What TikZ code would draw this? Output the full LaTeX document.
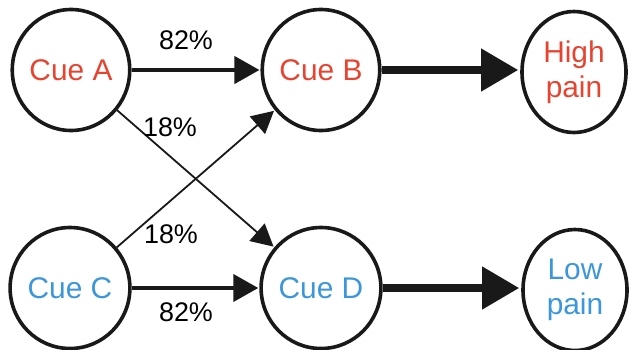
\documentclass[tikz,border=0pt]{standalone}
\usepackage{fontspec}
\setmainfont{Liberation Sans}
\usetikzlibrary{arrows.meta,shapes.geometric}
\definecolor{cuered}{HTML}{E8432F}
\definecolor{cueblue}{HTML}{3B96DC}
\tikzset{
  cue/.style={ellipse, draw=black!90, line width=3.6bp, minimum width=111bp, minimum height=121bp, inner sep=0pt,
    font=\fontsize{30}{35}\selectfont, align=center},
  outcome/.style={cue, minimum width=104bp},
  redtxt/.style={text=cuered},
  bluetxt/.style={text=cueblue},
  mainlink/.style={line width=4bp, draw=black!90, -{Triangle[length=25bp,width=27bp]}, shorten >=1bp},
  crosslink/.style={line width=1.8bp, draw=black!90, -{Triangle[length=22bp,width=23bp]}, shorten >=1bp},
  painlink/.style={line width=7.5bp, draw=black!90, -{Triangle[length=37bp,width=41bp]}, shorten >=2bp},
  pct/.style={font=\fontsize{27}{30}\selectfont, inner sep=0pt}
}
\begin{document}
\begin{tikzpicture}[x=1bp, y=-1bp]
  \useasboundingbox (0,0) rectangle (629,349);
  % cue circles
  \node[cue, redtxt]  (A) at (71,70)  {Cue A};
  \node[cue, redtxt]  (B) at (321,70) {Cue B};
  \node[cue, bluetxt] (C) at (70,288) {Cue C};
  \node[cue, bluetxt] (D) at (321,288) {Cue D};
  % outcome circles
  \node[outcome, redtxt]  (H) at (574,72)  {High\\pain};
  \node[outcome, bluetxt] (L) at (575,290) {Low\\pain};
  % cue-to-cue transitions
  \draw[mainlink]  (A) -- (B);
  \draw[mainlink]  (C) -- (D);
  \draw[crosslink] (A) -- (D);
  \draw[crosslink] (C) -- (B);
  % cue-to-outcome links, kept horizontal
  \draw[painlink] (B.east) -- (B.east -| H.west);
  \draw[painlink] (D.east) -- (D.east -| L.west);
  % transition probabilities
  \node[pct] (p1) at (186,40)  {82\%};
  \node[pct] (p2) at (170,127) {18\%};
  \node[pct] (p3) at (171,234) {18\%};
  \node[pct] (p4) at (186,312) {82\%};
\end{tikzpicture}
\end{document}
